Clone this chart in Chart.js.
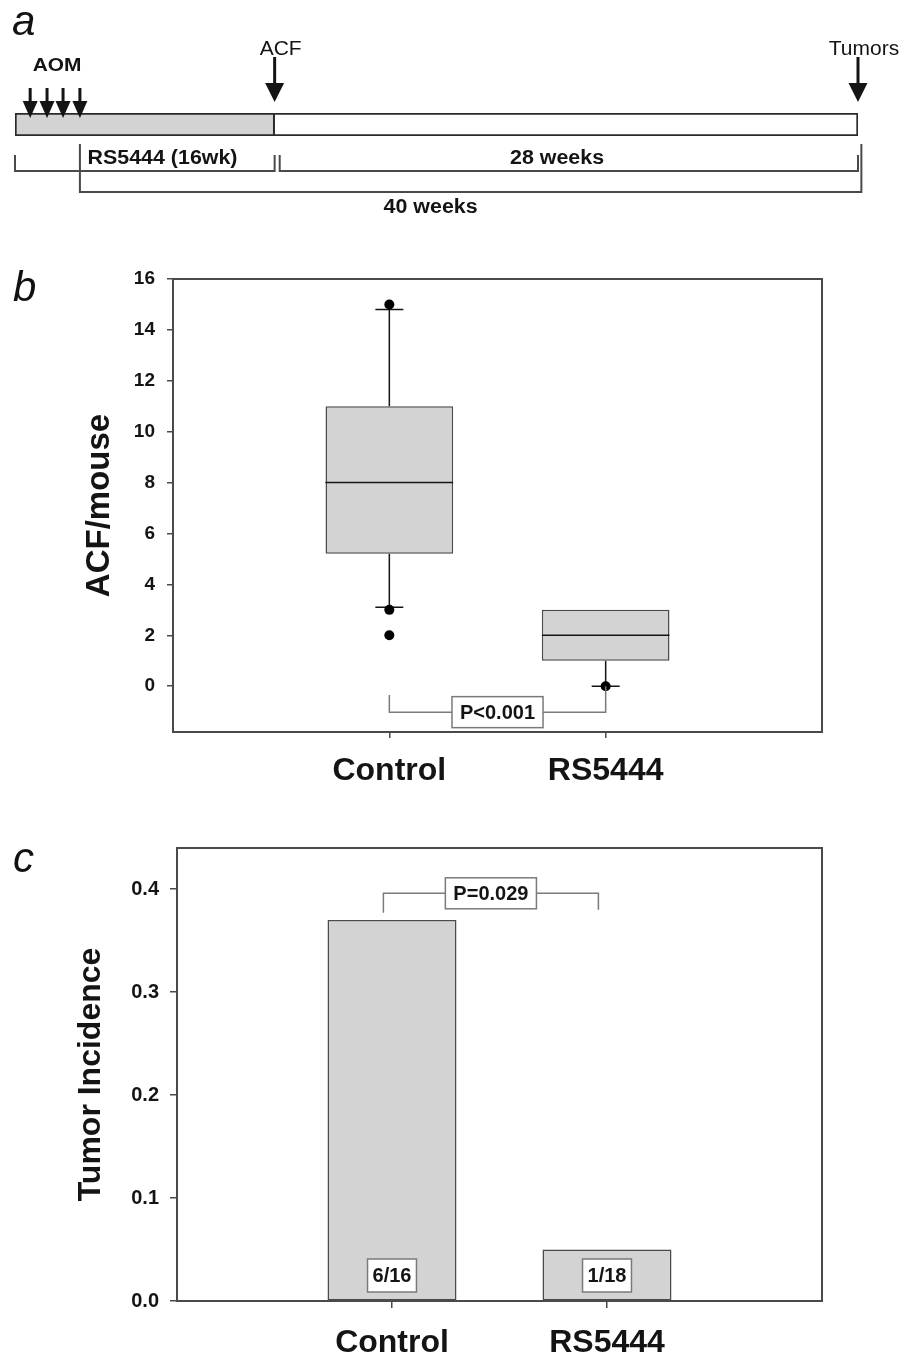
<!DOCTYPE html>
<html>
<head>
<meta charset="utf-8">
<script src="https://cdn.jsdelivr.net/npm/chart.js@4.4.1/dist/chart.umd.min.js"></script>
<style>
  body { margin: 0; background: #fff; width: 905px; height: 1357px; position: relative; overflow: hidden; font-family: "Liberation Sans", Arial, sans-serif; }
  canvas { position: absolute; left: 0; }
  .panel { position: absolute; font-style: italic; font-size: 42px; line-height: 42px; color: #111; }
</style>
</head>
<body>
<canvas id="timeline" width="905" height="235" style="top:0"></canvas>
<canvas id="acfChart" width="905" height="565" style="top:240px"></canvas>
<canvas id="tumorChart" width="905" height="547" style="top:810px"></canvas>
<div class="panel" style="left:12px;top:0px">a</div>
<div class="panel" style="left:13px;top:266px">b</div>
<div class="panel" style="left:13px;top:837px">c</div>
<script>
// ---- a: study design (schematic, positions in diagram units 0-100, not to scale)
const phaseStart = [0, 30.8];
const phaseEnd = [30.8, 100];
const aomDoses = [1.8, 3.8, 5.7, 7.7];
const eventNames = ["ACF", "Tumors"];
const eventPos = [30.8, 100];
const spanNames = ["RS5444 (16wk)", "28 weeks", "40 weeks"];
const spanStart = [0, 31.4, 7.7];
const spanEnd = [30.8, 100, 100.4];
const spanTextPos = [17.5, 64.3, 49.3];

// ---- b: ACF per mouse (box plot)
const acfGroups = ["Control", "RS5444"];
const acfQ1 = [5.2, 1];
const acfMedian = [8, 2];
const acfQ3 = [11, 3];
const acfLow = [3.1, 0];
const acfHigh = [14.8, 3];
const acfOutlierGroup = [1, 1, 1, 2];
const acfOutlierValue = [15, 3, 2, 0];
const acfTicks = [0, 2, 4, 6, 8, 10, 12, 14, 16];
const acfBracketX = [1, 2];
const acfBracketY = [-0.35, -1.02, 0];
const acfP = "P<0.001";

// ---- c: tumor incidence
const tumorGroups = ["Control", "RS5444"];
const tumorIncidence = [0.37, 0.05];
const tumorCounts = ["6/16", "1/18"];
const tumorTicks = [0, 0.1, 0.2, 0.3, 0.4];
const tumorBracketX = [0.96, 1.96];
const tumorBracketY = [0.377, 0.396, 0.38];
const tumorP = "P=0.029";

const FONT = '"Liberation Sans", Arial, sans-serif';
const INK = "#141414";
const LINE = "#4a4a4a";
const SOFT = "#7a7a7a";
const FILL = "#d3d3d3";

Chart.defaults.font.family = FONT;
Chart.defaults.color = INK;

function stretchText(ctx, text, x, y, font, sx) {
  ctx.save();
  ctx.font = font;
  ctx.textAlign = "center";
  ctx.textBaseline = "middle";
  ctx.translate(x, y);
  ctx.scale(sx, 1);
  ctx.fillText(text, 0, 0);
  ctx.restore();
}

function arrow(ctx, x, yTop, yTip, headLen, halfW, lw) {
  ctx.lineWidth = lw;
  ctx.beginPath();
  ctx.moveTo(x, yTop);
  ctx.lineTo(x, yTip - headLen + 2);
  ctx.stroke();
  ctx.beginPath();
  ctx.moveTo(x - halfW, yTip - headLen);
  ctx.lineTo(x + halfW, yTip - headLen);
  ctx.lineTo(x, yTip);
  ctx.closePath();
  ctx.fill();
}

function labelBox(ctx, text, cx, cy, font, pad, h) {
  ctx.save();
  ctx.font = font;
  const w = ctx.measureText(text).width + pad;
  ctx.fillStyle = "#fff";
  ctx.fillRect(cx - w / 2, cy - h / 2, w, h);
  ctx.strokeStyle = SOFT;
  ctx.lineWidth = 1.5;
  ctx.strokeRect(cx - w / 2, cy - h / 2, w, h);
  ctx.fillStyle = INK;
  ctx.textAlign = "center";
  ctx.textBaseline = "middle";
  ctx.fillText(text, cx, cy + 1);
  ctx.restore();
}

function drawBracket(chart, bx, by, text) {
  const { ctx, scales: { x, y } } = chart;
  const x0 = x.getPixelForValue(bx[0]);
  const x1 = x.getPixelForValue(bx[1]);
  const ym = y.getPixelForValue(by[1]);
  ctx.save();
  ctx.strokeStyle = SOFT;
  ctx.lineWidth = 1.5;
  ctx.beginPath();
  ctx.moveTo(x0, y.getPixelForValue(by[0]));
  ctx.lineTo(x0, ym);
  ctx.lineTo(x1, ym);
  ctx.lineTo(x1, y.getPixelForValue(by[2]));
  ctx.stroke();
  ctx.restore();
  labelBox(ctx, text, (x0 + x1) / 2, ym, "bold 20px " + FONT, 16, 31);
}

function drawFrame(chart) {
  const { ctx, chartArea: a } = chart;
  ctx.save();
  ctx.strokeStyle = LINE;
  ctx.lineWidth = 2;
  ctx.strokeRect(a.left, a.top, a.right - a.left, a.bottom - a.top);
  ctx.restore();
}

// ---------- a
const timelinePlugin = {
  id: "timelineMarks",
  afterDatasetsDraw(chart) {
    const { ctx, scales: { x } } = chart;
    ctx.save();
    ctx.fillStyle = INK;
    ctx.strokeStyle = INK;
    aomDoses.forEach((d) => arrow(ctx, x.getPixelForValue(d), 88, 118, 17, 7.5, 3));
    const mid = aomDoses.reduce((a, b) => a + b, 0) / aomDoses.length;
    stretchText(ctx, "AOM", x.getPixelForValue(mid) + 2, 66, "bold 19px " + FONT, 1.1);
    eventPos.forEach((p, i) => {
      const px = x.getPixelForValue(p);
      arrow(ctx, px, 57, 102, 19, 9.5, 3);
      stretchText(ctx, eventNames[i], px + 6, 49, "20px " + FONT, 1.05);
    });

    // brackets under the bar: first two on row 0, last on row 1
    const rows = [0, 0, 1];
    const rowLine = [171, 192];
    const rowTop = [155, 144];
    const rowText = [158, 207];
    ctx.strokeStyle = LINE;
    ctx.lineWidth = 2;
    spanNames.forEach((name, i) => {
      const r = rows[i];
      const x0 = x.getPixelForValue(spanStart[i]);
      const x1 = x.getPixelForValue(spanEnd[i]);
      ctx.beginPath();
      ctx.moveTo(x0, rowTop[r]);
      ctx.lineTo(x0, rowLine[r]);
      ctx.lineTo(x1, rowLine[r]);
      ctx.lineTo(x1, rowTop[r]);
      ctx.stroke();
      stretchText(ctx, name, x.getPixelForValue(spanTextPos[i]), rowText[r], "bold 20px " + FONT, 1.07);
    });
    ctx.restore();
  },
};

new Chart(document.querySelector("#timeline"), {
  type: "bar",
  data: {
    labels: ["timeline"],
    datasets: [
      {
        data: [[phaseStart[0], phaseEnd[0]]],
        backgroundColor: FILL,
        borderColor: "#2a2a2a",
        borderWidth: 2,
        borderSkipped: false,
        grouped: false,
        barPercentage: 1,
        categoryPercentage: 1,
      },
      {
        data: [[phaseStart[1], phaseEnd[1]]],
        backgroundColor: "#fff",
        borderColor: "#2a2a2a",
        borderWidth: 2,
        borderSkipped: "left",
        grouped: false,
        barPercentage: 1,
        categoryPercentage: 1,
      },
    ],
  },
  options: {
    indexAxis: "y",
    responsive: false,
    animation: false,
    layout: { padding: { left: 15, right: 47, top: 113, bottom: 99 } },
    scales: {
      x: { type: "linear", min: 0, max: 100, display: false },
      y: { display: false },
    },
    plugins: { legend: { display: false }, tooltip: { enabled: false } },
  },
  plugins: [timelinePlugin],
});

// ---------- b
const boxPlugin = {
  id: "boxMarks",
  beforeDatasetsDraw(chart) {
    const { ctx, scales: { x, y } } = chart;
    ctx.save();
    ctx.strokeStyle = INK;
    ctx.lineWidth = 1.5;
    acfGroups.forEach((g, i) => {
      const cx = x.getPixelForValue(i + 1);
      [[acfQ3[i], acfHigh[i]], [acfQ1[i], acfLow[i]]].forEach(([from, to]) => {
        if (from === to) return;
        const y0 = y.getPixelForValue(from);
        const y1 = y.getPixelForValue(to);
        ctx.beginPath();
        ctx.moveTo(cx, y0);
        ctx.lineTo(cx, y1);
        ctx.moveTo(cx - 14, y1);
        ctx.lineTo(cx + 14, y1);
        ctx.stroke();
      });
    });
    ctx.restore();
  },
  afterDatasetsDraw(chart) {
    const { ctx, scales: { x, y } } = chart;
    const boxes = chart.getDatasetMeta(0).data;
    ctx.save();
    ctx.strokeStyle = INK;
    ctx.lineWidth = 1.5;
    acfMedian.forEach((m, i) => {
      const cx = x.getPixelForValue(i + 1);
      const half = boxes[i].width / 2;
      const py = y.getPixelForValue(m);
      ctx.beginPath();
      ctx.moveTo(cx - half, py);
      ctx.lineTo(cx + half, py);
      ctx.stroke();
    });
    ctx.restore();
    drawFrame(chart);
    drawBracket(chart, acfBracketX, acfBracketY, acfP);
  },
};

new Chart(document.querySelector("#acfChart"), {
  type: "bar",
  data: {
    datasets: [
      {
        type: "bar",
        data: acfGroups.map((g, i) => ({ x: i + 1, y: [acfQ1[i], acfQ3[i]] })),
        backgroundColor: FILL,
        borderColor: LINE,
        borderWidth: 1.5,
        borderSkipped: false,
        barPercentage: 0.59,
        categoryPercentage: 1,
        order: 2,
      },
      {
        type: "scatter",
        data: acfOutlierGroup.map((g, i) => ({ x: g, y: acfOutlierValue[i] })),
        pointRadius: 5,
        backgroundColor: "#000",
        borderWidth: 0,
        order: 1,
      },
    ],
  },
  options: {
    responsive: false,
    animation: false,
    layout: { padding: { left: 0, right: 83, top: 39, bottom: 0 } },
    scales: {
      x: {
        type: "linear",
        min: 0,
        max: 3,
        offset: false,
        afterBuildTicks: (s) => { s.ticks = acfGroups.map((g, i) => ({ value: i + 1 })); },
        afterFit: (s) => { s.height = 73; },
        ticks: {
          callback: (v, i) => acfGroups[i],
          font: { size: 32, weight: "bold" },
          color: INK,
          padding: 14,
          maxRotation: 0,
        },
        grid: { display: true, drawOnChartArea: false, offset: false, tickLength: 6, color: LINE, lineWidth: 1.5 },
        border: { display: true, color: LINE, width: 2 },
      },
      y: {
        type: "linear",
        min: -1.8,
        max: 16,
        afterBuildTicks: (s) => { s.ticks = acfTicks.map((v) => ({ value: v })); },
        afterFit: (s) => { s.width = 173; },
        ticks: { font: { size: 19, weight: "bold" }, color: INK, padding: 12 },
        grid: { display: true, drawOnChartArea: false, tickLength: 6, color: LINE, lineWidth: 1.5 },
        border: { display: true, color: LINE, width: 2 },
        title: {
          display: true,
          text: "ACF/mouse",
          color: INK,
          font: { size: 33, weight: "bold" },
          padding: { top: 80, bottom: 0 },
        },
      },
    },
    plugins: { legend: { display: false }, tooltip: { enabled: false } },
  },
  plugins: [boxPlugin],
});

// ---------- c
const tumorPlugin = {
  id: "tumorMarks",
  afterDatasetsDraw(chart) {
    const { ctx, scales: { x, y } } = chart;
    const base = y.getPixelForValue(0);
    tumorCounts.forEach((t, i) => {
      labelBox(ctx, t, x.getPixelForValue(i + 1), base - 25.5, "bold 20px " + FONT, 10, 33);
    });
    drawFrame(chart);
    drawBracket(chart, tumorBracketX, tumorBracketY, tumorP);
  },
};

new Chart(document.querySelector("#tumorChart"), {
  type: "bar",
  data: {
    datasets: [
      {
        data: tumorGroups.map((g, i) => ({ x: i + 1, y: tumorIncidence[i] })),
        backgroundColor: FILL,
        borderColor: LINE,
        borderWidth: 1.5,
        borderSkipped: false,
        barPercentage: 0.6,
        categoryPercentage: 1,
      },
    ],
  },
  options: {
    responsive: false,
    animation: false,
    layout: { padding: { left: 0, right: 83, top: 38, bottom: 0 } },
    scales: {
      x: {
        type: "linear",
        min: 0,
        max: 3,
        offset: false,
        afterBuildTicks: (s) => { s.ticks = tumorGroups.map((g, i) => ({ value: i + 1 })); },
        afterFit: (s) => { s.height = 56; },
        ticks: {
          callback: (v, i) => tumorGroups[i],
          font: { size: 32, weight: "bold" },
          color: INK,
          padding: 16,
          maxRotation: 0,
        },
        grid: { display: true, drawOnChartArea: false, offset: false, tickLength: 7, color: LINE, lineWidth: 1.5 },
        border: { display: true, color: LINE, width: 2 },
      },
      y: {
        type: "linear",
        min: 0,
        max: 0.44,
        afterBuildTicks: (s) => { s.ticks = tumorTicks.map((v) => ({ value: v })); },
        afterFit: (s) => { s.width = 177; },
        ticks: {
          callback: (v) => v.toFixed(1),
          font: { size: 20, weight: "bold" },
          color: INK,
          padding: 11,
        },
        grid: { display: true, drawOnChartArea: false, tickLength: 7, color: LINE, lineWidth: 1.5 },
        border: { display: true, color: LINE, width: 2 },
        title: {
          display: true,
          text: "Tumor Incidence",
          color: INK,
          font: { size: 32, weight: "bold" },
          padding: { top: 72, bottom: 0 },
        },
      },
    },
    plugins: { legend: { display: false }, tooltip: { enabled: false } },
  },
  plugins: [tumorPlugin],
});
</script>
</body>
</html>
